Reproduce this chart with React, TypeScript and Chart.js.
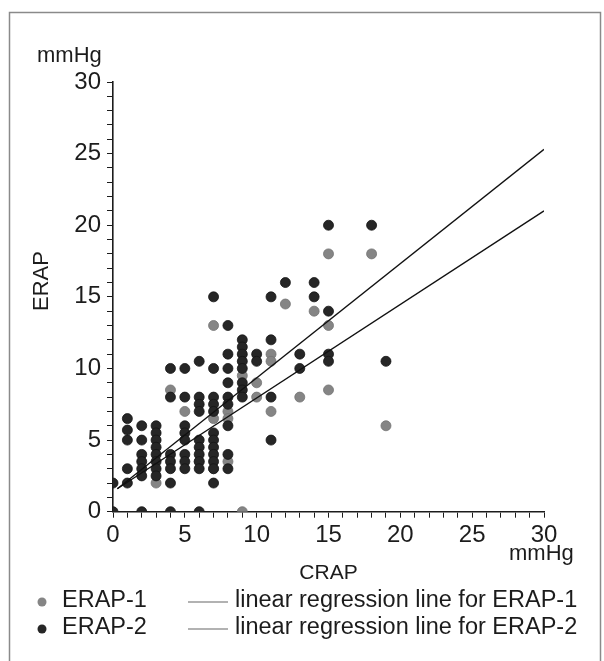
import React, { useEffect, useRef } from "react";
import { Chart, registerables } from "chart.js";

Chart.register(...registerables);

// ERAP-1 (gray points)
const erap1X = [3, 4, 5, 6, 7, 7, 7, 8, 8, 8, 9, 9, 10, 10, 11, 11, 11, 12, 13, 14, 15, 15, 15, 18, 19];
const erap1Y = [2, 8.5, 7, 3.5, 13, 6.5, 3, 7, 6.5, 3.5, 9.5, 0, 9, 8, 11, 10.5, 7, 14.5, 8, 14, 18, 13, 8.5, 18, 6];

// ERAP-2 (dark points)
const erap2X = [
  0, 0,
  1, 1, 1, 1, 1,
  2, 2, 2, 2, 2, 2, 2,
  3, 3, 3, 3, 3, 3, 3, 3,
  4, 4, 4, 4, 4, 4, 4,
  5, 5, 5, 5, 5, 5, 5, 5,
  6, 6, 6, 6, 6, 6, 6, 6, 6, 6,
  7, 7, 7, 7, 7, 7, 7, 7, 7, 7, 7, 7,
  8, 8, 8, 8, 8, 8, 8, 8, 8,
  9, 9, 9, 9, 9, 9, 9, 9,
  10, 10,
  11, 11, 11, 11,
  12,
  13, 13,
  14, 14,
  15, 15, 15, 15,
  18,
  19,
];
const erap2Y = [
  2, 0,
  6.5, 5.7, 5, 3, 2,
  6, 5, 4, 3.5, 3, 2.5, 0,
  6, 5.5, 5, 4.5, 4, 3.5, 3, 2.5,
  10, 8, 4, 3.5, 3, 2, 0,
  10, 8, 6, 5.5, 5, 4, 3.5, 3,
  10.5, 8, 7.5, 7, 5, 4.5, 4, 3.5, 3, 0,
  15, 10, 8, 7.5, 7, 5.5, 5, 4.5, 4, 3.5, 3, 2,
  13, 11, 10, 9, 8, 7.5, 6, 4, 3,
  12, 11.5, 11, 10.5, 10, 9, 8.5, 8,
  11, 10.5,
  15, 12, 8, 5,
  16,
  11, 10,
  16, 15,
  20, 14, 11, 10.5,
  20,
  10.5,
];

// regression line end points
const reg1X = [0.3, 30];
const reg1Y = [1.6, 21.0];
const reg2X = [0.3, 30];
const reg2Y = [1.6, 25.3];

const axisMin = 0;
const axisMax = 30;
const tickStep = 1;
const labelStep = 5;

const yUnit = "mmHg";
const xUnit = "mmHg";
const yTitle = "ERAP";
const xTitle = "CRAP";
const legendPoint1 = "ERAP-1";
const legendPoint2 = "ERAP-2";
const legendLine1 = "linear regression line for ERAP-1";
const legendLine2 = "linear regression line for ERAP-2";

const FONT = '"Liberation Sans", Arial, Helvetica, sans-serif';
const INK = "#1c1c1c";
const DARK = "#262626";
const GRAY = "#858585";

const zip = (xs: number[], ys: number[]) => xs.map((x, i) => ({ x, y: ys[i] }));

const decorPlugin = {
  id: "decor",
  afterDraw(chart: any) {
    const ctx = chart.ctx as CanvasRenderingContext2D;
    ctx.save();
    // frame (left, top, right)
    ctx.strokeStyle = "#8a8a8a";
    ctx.lineWidth = 1.5;
    ctx.beginPath();
    ctx.moveTo(9.5, 661);
    ctx.lineTo(9.5, 12.5);
    ctx.lineTo(600.5, 12.5);
    ctx.lineTo(600.5, 661);
    ctx.stroke();

    ctx.fillStyle = INK;
    ctx.font = `22px ${FONT}`;
    ctx.textBaseline = "alphabetic";
    ctx.textAlign = "left";
    ctx.fillText(yUnit, 37, 62);

    // x unit
    ctx.fillText(xUnit, 509, 560);

    // x title
    ctx.textAlign = "center";
    ctx.font = `21px ${FONT}`;
    ctx.fillText(xTitle, (chart.chartArea.left + chart.chartArea.right) / 2, 579);

    // y title
    ctx.save();
    ctx.translate(42, 281);
    ctx.rotate(-Math.PI / 2);
    ctx.font = `22px ${FONT}`;
    ctx.textAlign = "center";
    ctx.textBaseline = "middle";
    ctx.fillText(yTitle, 0, 0);
    ctx.restore();

    // legend
    const rows = [
      { color: GRAY, label: legendPoint1, line: legendLine1, y: 601 },
      { color: DARK, label: legendPoint2, line: legendLine2, y: 628 },
    ];
    ctx.font = `23.5px ${FONT}`;
    ctx.textAlign = "left";
    ctx.textBaseline = "middle";
    for (const r of rows) {
      ctx.fillStyle = r.color;
      ctx.beginPath();
      ctx.arc(42, r.y + 1, 4.5, 0, Math.PI * 2);
      ctx.fill();
      ctx.fillStyle = INK;
      ctx.fillText(r.label, 62, r.y);
      ctx.strokeStyle = "#666";
      ctx.lineWidth = 1.2;
      ctx.beginPath();
      ctx.moveTo(188, r.y + 1);
      ctx.lineTo(228, r.y + 1);
      ctx.stroke();
      ctx.fillText(r.line, 235, r.y);
    }
    ctx.restore();
  },
};

export default function App() {
  const ref = useRef<HTMLCanvasElement | null>(null);

  useEffect(() => {
    document.body.style.margin = "0";
    const canvas = ref.current;
    if (!canvas) return;
    const tickCb = (v: any) => (Number(v) % labelStep === 0 ? String(v) : "");
    const chart = new Chart(canvas, {
      type: "scatter",
      data: {
        datasets: [
          {
            label: legendLine2,
            data: zip(reg2X, reg2Y),
            showLine: true,
            pointRadius: 0,
            borderColor: "#111",
            borderWidth: 1.3,
            order: 0,
          },
          {
            label: legendLine1,
            data: zip(reg1X, reg1Y),
            showLine: true,
            pointRadius: 0,
            borderColor: "#111",
            borderWidth: 1.3,
            order: 0,
          },
          {
            label: legendPoint2,
            data: zip(erap2X, erap2Y),
            pointRadius: 5,
            backgroundColor: DARK,
            borderColor: "#151515",
            borderWidth: 0.8,
            order: 1,
          },
          {
            label: legendPoint1,
            data: zip(erap1X, erap1Y),
            pointRadius: 5,
            backgroundColor: GRAY,
            borderColor: "#737373",
            borderWidth: 0.8,
            order: 2,
          },
        ],
      },
      options: {
        responsive: false,
        animation: false,
        layout: { padding: { top: 82, right: 60, left: 0, bottom: 0 } },
        plugins: { legend: { display: false }, tooltip: { enabled: false } },
        scales: {
          x: {
            type: "linear",
            position: "bottom",
            min: axisMin,
            max: axisMax,
            afterFit: (s: any) => {
              s.height = 149.3;
            },
            ticks: {
              stepSize: tickStep,
              autoSkip: false,
              maxRotation: 0,
              minRotation: 0,
              callback: tickCb,
              color: INK,
              padding: 3,
              font: { family: FONT, size: 24 },
            },
            grid: { drawOnChartArea: false, drawTicks: true, tickLength: 6, color: INK, lineWidth: 1 },
            border: { display: true, color: INK, width: 1.6 },
          },
          y: {
            type: "linear",
            position: "left",
            min: axisMin,
            max: axisMax,
            afterFit: (s: any) => {
              s.width = 113;
            },
            ticks: {
              stepSize: tickStep,
              autoSkip: false,
              callback: tickCb,
              color: INK,
              padding: 6,
              font: { family: FONT, size: 24 },
            },
            grid: { drawOnChartArea: false, drawTicks: true, tickLength: 6, color: INK, lineWidth: 1 },
            border: { display: true, color: INK, width: 1.6 },
          },
        },
      },
      plugins: [decorPlugin],
    });
    return () => chart.destroy();
  }, []);

  return (
    <div style={{ position: "absolute", left: 0, top: 0, width: 604, height: 661, background: "#fff" }}>
      <canvas ref={ref} width={604} height={661} style={{ display: "block" }} />
    </div>
  );
}
